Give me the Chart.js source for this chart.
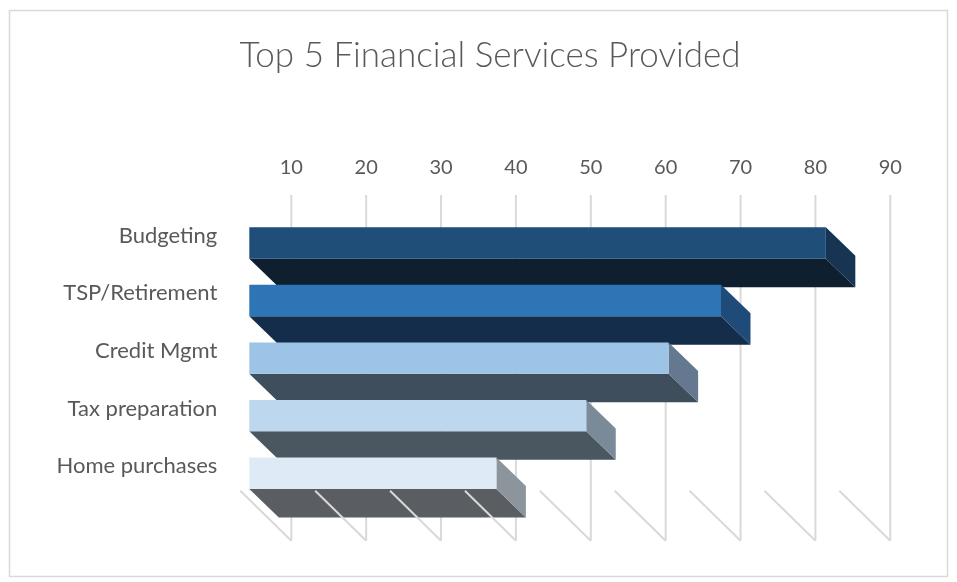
<!DOCTYPE html>
<html>
<head>
<meta charset="utf-8">
<title>Top 5 Financial Services Provided</title>
<script src="https://cdn.jsdelivr.net/npm/chart.js@4.4.1/dist/chart.umd.min.js"></script>
<style>
  html, body { margin: 0; padding: 0; background: #fff; }
  canvas { display: block; }
</style>
</head>
<body>
<canvas id="chart" width="957" height="582"></canvas>
<script>
// services and how often each was provided
var categories = ["Budgeting", "TSP/Retirement", "Credit Mgmt", "Tax preparation", "Home purchases"];
var counts = [87, 73, 66, 55, 43];
var axisMin = 10;
var axisMax = 90;
var axisStep = 10;
var chartTitle = "Top 5 Financial Services Provided";

// face colours: front, underside, end cap
var frontColors = ["#1f4e79", "#2e75b6", "#9dc3e6", "#bdd7ee", "#deebf7"];
var bottomColors = ["#0f1f30", "#142d4a", "#3e4e5d", "#4a5660", "#5a5e62"];
var sideColors = ["#173452", "#1f4b78", "#64798f", "#7a8a99", "#8c959c"];

var textColor = "#595959";
var gridColor = "#d9d9d9";

// fake 3d: the scale is the back wall, bars sit in front of it
var depth = { x: 29.5, y: 28.5 };
var barShift = { x: -42, y: 7.2 };
var floorShift = { x: -51, y: -50 };

function fillPoly(ctx, pts) {
    ctx.beginPath();
    ctx.moveTo(pts[0][0], pts[0][1]);
    for (var i = 1; i < pts.length; i++) {
        ctx.lineTo(pts[i][0], pts[i][1]);
    }
    ctx.closePath();
    ctx.fill();
}

// white card with a thin outline, plus the title (centred on the card, not the plot)
var frame = {
    id: "frame",
    beforeDraw: function(chart) {
        var ctx = chart.ctx;
        ctx.save();
        ctx.fillStyle = "#fff";
        ctx.fillRect(0, 0, chart.width, chart.height);
        ctx.strokeStyle = gridColor;
        ctx.lineWidth = 1.5;
        ctx.strokeRect(9.5, 10.5, 938, 566);
        ctx.fillStyle = textColor;
        ctx.font = "300 35px Lato";
        ctx.textAlign = "center";
        ctx.textBaseline = "middle";
        ctx.fillText(chartTitle, 490, 56);
        ctx.restore();
    }
};

var bars3d = {
    id: "bars3d",
    beforeDatasetsDraw: function(chart) {
        var ctx = chart.ctx,
            area = chart.chartArea,
            xs = chart.scales.x;
        var wallTop = area.top - 12,
            wallBottom = area.bottom + 46;

        ctx.save();
        ctx.strokeStyle = gridColor;
        ctx.lineWidth = 2;
        xs.ticks.forEach(function(t) {
            var px = xs.getPixelForValue(t.value);
            ctx.beginPath();
            ctx.moveTo(px, wallTop);
            ctx.lineTo(px, wallBottom);
            ctx.stroke();
        });

        var meta = chart.getDatasetMeta(0);
        meta.data.forEach(function(bar, i) {
            var p = bar.getProps(["x", "y", "base", "height"], true);
            var l = p.base + barShift.x,
                r = p.x + barShift.x,
                t = p.y - p.height / 2 + barShift.y,
                b = p.y + p.height / 2 + barShift.y;
            ctx.fillStyle = bottomColors[i];
            fillPoly(ctx, [[l, b], [r, b], [r + depth.x, b + depth.y], [l + depth.x, b + depth.y]]);
            ctx.fillStyle = sideColors[i];
            fillPoly(ctx, [[r, t], [r + depth.x, t + depth.y], [r + depth.x, b + depth.y], [r, b]]);
        });
        ctx.restore();

        // front faces are drawn by chart.js, moved onto the front plane
        ctx.save();
        ctx.translate(barShift.x, barShift.y);
    },
    afterDatasetsDraw: function(chart) {
        var ctx = chart.ctx,
            area = chart.chartArea,
            xs = chart.scales.x;
        ctx.restore();

        var wallBottom = area.bottom + 46;
        ctx.save();
        ctx.strokeStyle = gridColor;
        ctx.lineWidth = 2;
        xs.ticks.forEach(function(t) {
            var px = xs.getPixelForValue(t.value);
            ctx.beginPath();
            ctx.moveTo(px, wallBottom);
            ctx.lineTo(px + floorShift.x, wallBottom + floorShift.y);
            ctx.stroke();
        });
        ctx.restore();
    }
};

new Chart(document.getElementById("chart"), {
    type: "bar",
    data: {
        labels: categories,
        datasets: [{
            data: counts,
            base: axisMin,
            backgroundColor: frontColors,
            borderWidth: 0,
            barPercentage: 0.545,
            categoryPercentage: 1,
            clip: false
        }]
    },
    options: {
        indexAxis: "y",
        responsive: false,
        animation: false,
        layout: { padding: { top: 77.6, left: 0, right: 66.7, bottom: 85 } },
        plugins: {
            legend: { display: false },
            tooltip: { enabled: false },
            title: { display: false }
        },
        scales: {
            x: {
                position: "top",
                min: axisMin,
                max: axisMax,
                border: { display: false },
                grid: { display: false, drawTicks: false },
                ticks: {
                    stepSize: axisStep,
                    color: textColor,
                    font: { family: "Lato", size: 20 },
                    padding: 27,
                    maxRotation: 0,
                    autoSkip: false
                },
                afterFit: function(scale) { scale.height = 129.4; }
            },
            y: {
                border: { display: false },
                grid: { display: false, drawTicks: false },
                ticks: {
                    color: textColor,
                    font: { family: "Lato", size: 22 },
                    padding: 74
                },
                afterFit: function(scale) { scale.width = 291.3; }
            }
        }
    },
    plugins: [frame, bars3d]
});
</script>
</body>
</html>
